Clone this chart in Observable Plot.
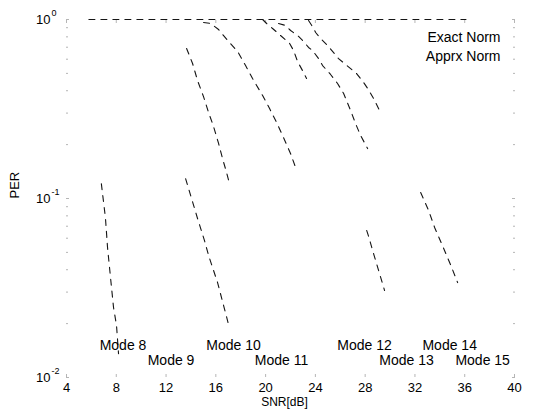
<!DOCTYPE html>
<html>
<head>
<meta charset="utf-8">
<script src="https://cdn.jsdelivr.net/npm/d3@7"></script>
<script src="https://cdn.jsdelivr.net/npm/@observablehq/plot@0.6"></script>
<style>
  html, body { margin: 0; padding: 0; background: #fff; }
</style>
</head>
<body>
<div id="chart"></div>
<script>
// ---- tick values / labels ----
const xTicks = [4, 8, 12, 16, 20, 24, 28, 32, 36, 40];
const yTicks = [1, 0.1, 0.01];
const yExponents = ["0", "-1", "-2"];
const yMinor = [0.02, 0.03, 0.04, 0.05, 0.06, 0.07, 0.08, 0.09,
                0.2, 0.3, 0.4, 0.5, 0.6, 0.7, 0.8, 0.9];

// ---- curve fragments (SNR in dB, PER) ----
const topSNR = [5.8, 36.1];
const topPER = [1, 1];

const mode8SNR = [6.8, 7.13, 7.30, 7.54, 7.78, 8.02, 8.18];
const mode8PER = [0.121, 0.078, 0.053, 0.036, 0.0246, 0.0195, 0.0136];

const mode9SNR = [13.57, 14.53, 15.09, 15.42, 16.14, 17.02];
const mode9PER = [0.129, 0.0773, 0.0582, 0.048, 0.0339, 0.0198];

const mode10SNR = [13.65, 14.13, 14.53, 15.01, 15.42, 15.82, 16.22, 16.54, 16.86, 17.10];
const mode10PER = [0.689, 0.568, 0.456, 0.371, 0.302, 0.252, 0.203, 0.167, 0.140, 0.121];

const mode11SNR = [15.01, 15.58, 16.22, 17.02, 17.75, 18.39, 18.95, 19.76, 20.32, 20.88, 21.44, 22.01, 22.41];
const mode11PER = [0.962, 0.950, 0.879, 0.754, 0.663, 0.553, 0.468, 0.376, 0.318, 0.266, 0.219, 0.178, 0.149];

const mode12aSNR = [19.76, 20.08, 20.56, 21.20, 21.93, 22.25, 22.57, 23.05, 23.29];
const mode12aPER = [1.0, 0.950, 0.891, 0.814, 0.734, 0.671, 0.582, 0.506, 0.468];

const mode12SNR = [21.04, 21.60, 22.01, 22.57, 23.05, 23.45, 23.77, 24.26, 24.58, 25.22, 25.78, 26.27, 26.83, 27.23, 27.63, 28.20];
const mode12PER = [0.950, 0.926, 0.868, 0.814, 0.754, 0.698, 0.671, 0.605, 0.553, 0.493, 0.439, 0.386, 0.310, 0.262, 0.225, 0.190];

const mode13SNR = [23.45, 23.86, 24.02, 24.42, 24.98, 25.86, 27.31, 27.87, 28.20, 28.68, 29.24];
const mode13PER = [0.987, 0.891, 0.846, 0.783, 0.716, 0.605, 0.499, 0.445, 0.412, 0.362, 0.302];

const mode13bSNR = [28.12, 28.28, 28.60, 29.56];
const mode13bPER = [0.0663, 0.0613, 0.0512, 0.0306];

const mode14SNR = [32.46, 33.10, 33.58, 34.31, 34.95, 35.43];
const mode14PER = [0.108, 0.0857, 0.0689, 0.0526, 0.0412, 0.0339];

// ---- annotations ----
const modeNames = ["Mode 8", "Mode 9", "Mode 10", "Mode 11", "Mode 12", "Mode 13", "Mode 14", "Mode 15"];
const modeLabelSNR = [8.54, 12.40, 17.42, 21.28, 27.95, 31.33, 34.79, 37.44];
const modeLabelPER = [0.0151, 0.01245, 0.0151, 0.01245, 0.0151, 0.01245, 0.0151, 0.01245];
const legendLabels = ["Exact Norm", "Apprx Norm"];
const xLabel = "SNR[dB]";
const yLabel = "PER";

// ---- build table ----
const seriesList = [
  ["top", topSNR, topPER],
  ["Mode 8", mode8SNR, mode8PER],
  ["Mode 9", mode9SNR, mode9PER],
  ["Mode 10", mode10SNR, mode10PER],
  ["Mode 11", mode11SNR, mode11PER],
  ["Mode 12a", mode12aSNR, mode12aPER],
  ["Mode 12", mode12SNR, mode12PER],
  ["Mode 13", mode13SNR, mode13PER],
  ["Mode 13b", mode13bSNR, mode13bPER],
  ["Mode 14", mode14SNR, mode14PER]
];
const rows = seriesList.flatMap(([name, xs, ys]) => xs.map((x, i) => ({series: name, snr: x, per: ys[i]})));
const modeRows = modeNames.map((t, i) => ({t, x: modeLabelSNR[i], y: modeLabelPER[i]}));
const expRows = yTicks.map((v, i) => ({v, e: yExponents[i]}));

const font = "'Liberation Sans', Arial, Helvetica, sans-serif";
const tickColor = "#b5b5b5";

const chart = Plot.plot({
  width: 537,
  height: 409,
  marginLeft: 66,
  marginRight: 23,
  marginTop: 19,
  marginBottom: 32,
  style: {fontFamily: font, fontSize: "13px", background: "#fff", color: "#000"},
  x: {domain: [4, 40]},
  y: {type: "log", domain: [0.01, 1]},
  marks: [
    // tick labels on x
    Plot.axisX({ticks: xTicks, tickSize: 0, tickPadding: 5, label: null, tickFormat: d => String(d)}),
    // inward ticks (faint, as in the scan)
    Plot.axisX({ticks: xTicks, anchor: "bottom", tickSize: -3, tickFormat: () => "", label: null, stroke: tickColor}),
    Plot.axisX({ticks: xTicks, anchor: "top", tickSize: -3, tickFormat: () => "", label: null, stroke: tickColor}),
    Plot.axisY({ticks: yTicks, anchor: "left", tickSize: -3, tickFormat: () => "", label: null, stroke: tickColor}),
    Plot.axisY({ticks: yTicks, anchor: "right", tickSize: -3, tickFormat: () => "", label: null, stroke: tickColor}),
    Plot.axisY({ticks: yMinor, anchor: "left", tickSize: -2, tickFormat: () => "", label: null, stroke: tickColor}),
    Plot.axisY({ticks: yMinor, anchor: "right", tickSize: -2, tickFormat: () => "", label: null, stroke: tickColor}),
    // y tick labels 10^n
    Plot.text(yTicks, {y: d => d, frameAnchor: "left", dx: -16, textAnchor: "end", text: () => "10", fontSize: 13}),
    Plot.text(expRows, {y: "v", text: "e", frameAnchor: "left", dx: -15, dy: -6, textAnchor: "start", fontSize: 9}),
    // curves
    Plot.line(rows, {x: "snr", y: "per", z: "series", stroke: "#151515", strokeWidth: 1.1, strokeDasharray: "6,6"}),
    // mode labels
    Plot.text(modeRows, {x: "x", y: "y", text: "t", fontSize: 14}),
    // legend (text)
    Plot.text([legendLabels[0]], {text: d => d, frameAnchor: "top-right", dx: -14, dy: 18.5, lineAnchor: "middle", textAnchor: "end", fontSize: 14}),
    Plot.text([legendLabels[1]], {text: d => d, frameAnchor: "top-right", dx: -14, dy: 37.5, lineAnchor: "middle", textAnchor: "end", fontSize: 14}),
    // axis titles
    Plot.text([xLabel], {text: d => d, frameAnchor: "bottom", dx: -6, dy: 25, lineAnchor: "middle", fontSize: 12}),
    Plot.text([yLabel], {text: d => d, frameAnchor: "left", dx: -52, rotate: -90, fontSize: 13})
  ]
});
document.getElementById("chart").appendChild(chart);
</script>
</body>
</html>
